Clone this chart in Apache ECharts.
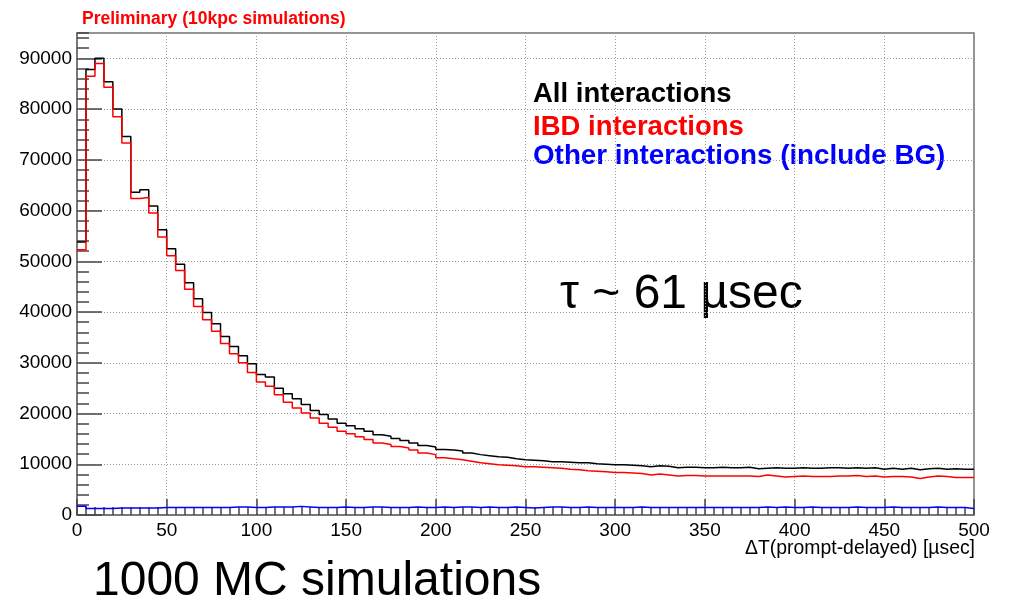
<!DOCTYPE html>
<html>
<head>
<meta charset="utf-8">
<script src="https://cdn.jsdelivr.net/npm/echarts@6/dist/echarts.min.js"></script>
<style>
  html, body { margin: 0; padding: 0; background: #fff; }
  #chart { width: 1009px; height: 603px; }
</style>
</head>
<body>
<div id="chart"></div>
<script>
// ΔT histogram, 5 µsec bins from 0 to 500 µsec
const binWidth = 5;
const xMin = 0, xMax = 500;

// All interactions
const allCounts = [
  53800, 87800, 90000, 85400, 80000, 74600, 63600, 64100, 60900, 56200,
  52500, 49400, 45800, 42600, 39900, 37700, 35200, 33200, 31400, 29800,
  27700, 27200, 25000, 23900, 22900, 21800, 20600, 19800, 18900, 18100,
  17600, 17000, 16500, 15800, 15500, 15100, 14700, 14200, 13700, 13400,
  12900, 12800, 12600, 12200, 11900, 11700, 11500, 11400, 11100, 10900,
  10800, 10700, 10500, 10500, 10400, 10300, 10300, 10100, 10000, 9900,
  9900, 9800, 9700, 9500, 9700, 9600, 9300, 9400, 9400, 9300,
  9300, 9400, 9300, 9300, 9400, 9100, 9200, 9300, 9200, 9200,
  9300, 9200, 9200, 9300, 9300, 9200, 9300, 9200, 9300, 9000,
  9200, 9000, 9200, 8900, 9100, 9200, 9000, 9100, 9000, 9000
];

// IBD interactions
const ibdCounts = [
  52300, 86500, 89000, 84300, 78500, 73300, 62400, 62600, 59500, 54800,
  51100, 48200, 44500, 41100, 38500, 36200, 33800, 31800, 30000, 28100,
  26200, 25400, 23700, 22200, 21100, 20100, 19100, 18100, 17300, 16500,
  16000, 15400, 14900, 14200, 13900, 13500, 13200, 12800, 12200, 11900,
  11300, 11100, 10900, 10600, 10300, 10100, 9900, 9800, 9700, 9500,
  9500, 9400, 9300, 9200, 9000, 8900, 8700, 8600, 8500, 8400,
  8400, 8300, 8200, 7900, 8100, 7900, 7700, 7800, 7800, 7700,
  7700, 7700, 7700, 7700, 7700, 7600, 7900, 7700, 7500, 7600,
  7700, 7600, 7600, 7600, 7700, 7700, 7800, 7600, 7700, 7500,
  7600, 7600, 7500, 7200, 7500, 7700, 7600, 7400, 7400, 7400
];

// Other interactions (including background)
const otherCounts = [
  1700, 1300, 1300, 1300, 1400, 1400, 1400, 1400, 1400, 1500,
  1500, 1500, 1500, 1500, 1500, 1500, 1500, 1600, 1600, 1500,
  1500, 1600, 1600, 1600, 1700, 1600, 1500, 1500, 1500, 1600,
  1500, 1500, 1600, 1600, 1500, 1500, 1500, 1600, 1500, 1500,
  1600, 1500, 1600, 1600, 1500, 1600, 1500, 1500, 1600, 1500,
  1400, 1500, 1600, 1600, 1500, 1500, 1600, 1500, 1500, 1500,
  1500, 1500, 1600, 1500, 1500, 1500, 1500, 1500, 1500, 1500,
  1500, 1500, 1500, 1500, 1500, 1500, 1600, 1500, 1600, 1500,
  1500, 1600, 1500, 1500, 1500, 1500, 1600, 1500, 1500, 1500,
  1600, 1500, 1500, 1500, 1500, 1600, 1500, 1500, 1500, 1300
];

const seriesNames = ['All interactions', 'IBD interactions', 'Other interactions (include BG)'];
const seriesColors = ['#000000', '#ff0000', '#0000ff'];

// Step-line points: left edge of every bin, plus the right edge of the last bin
function histPoints(counts) {
  const pts = counts.map((v, i) => [xMin + i * binWidth, v]);
  pts.push([xMin + counts.length * binWidth, counts[counts.length - 1]]);
  return pts;
}

const FONT = '"Liberation Sans", Arial, Helvetica, sans-serif';
const chart = echarts.init(document.getElementById('chart'), null, { renderer: 'canvas' });

const histSeries = [allCounts, ibdCounts, otherCounts].map((counts, k) => ({
  name: seriesNames[k],
  type: 'line',
  step: 'end',
  data: histPoints(counts),
  showSymbol: false,
  symbol: 'none',
  silent: true,
  clip: true,
  lineStyle: { color: seriesColors[k], width: 1.5 },
  z: 3 + k
}));

const plainNumber = v => String(Math.round(v));

chart.setOption({
  animation: false,
  backgroundColor: '#ffffff',
  grid: {
    left: 77, right: 35, top: 33, bottom: 88,
    show: true, borderColor: '#707070', borderWidth: 1.5, backgroundColor: 'transparent'
  },
  xAxis: {
    type: 'value', min: xMin, max: xMax, interval: 50,
    axisLine: { show: true, lineStyle: { color: '#707070', width: 1.5 } },
    axisTick: { show: true, inside: true, length: 16, lineStyle: { color: '#444', width: 1.5 } },
    minorTick: { show: true, splitNumber: 10, length: 8, lineStyle: { color: '#444', width: 1.5 } },
    axisLabel: { color: '#000', fontSize: 19, fontFamily: FONT, margin: 6, formatter: plainNumber },
    splitLine: { show: true, lineStyle: { color: '#9a9a9a', type: [1, 2], width: 1 } }
  },
  yAxis: [
    {
      type: 'value', min: 0, max: 95000, interval: 10000,
      axisLine: { show: true, lineStyle: { color: '#707070', width: 1.5 } },
      axisTick: { show: true, inside: true, length: 25, lineStyle: { color: '#444', width: 1.5 } },
      axisLabel: { color: '#000', fontSize: 19, fontFamily: FONT, margin: 5, showMaxLabel: false, formatter: plainNumber },
      splitLine: { show: true, lineStyle: { color: '#9a9a9a', type: [1, 2], width: 1 } }
    },
    {
      // minor ticks every 2000
      type: 'value', min: 0, max: 95000, interval: 2000, position: 'left', offset: 0,
      axisLine: { show: false },
      axisTick: { show: true, inside: true, length: 12, lineStyle: { color: '#444', width: 1.5 } },
      axisLabel: { show: false },
      splitLine: { show: false }
    }
  ],
  series: histSeries,
  graphic: [
    {
      type: 'text', left: 82, top: 10,
      style: { text: 'Preliminary (10kpc simulations)', fill: '#ff0000', font: 'bold 17.5px ' + FONT }
    },
    {
      type: 'text', x: 533, y: 94,
      style: { text: seriesNames[0], fill: seriesColors[0], font: 'bold 27.5px ' + FONT, verticalAlign: 'middle' }
    },
    {
      type: 'text', x: 533, y: 127,
      style: { text: seriesNames[1], fill: seriesColors[1], font: 'bold 27.5px ' + FONT, verticalAlign: 'middle' }
    },
    {
      type: 'text', x: 533, y: 156,
      style: { text: seriesNames[2], fill: seriesColors[2], font: 'bold 27.8px ' + FONT, verticalAlign: 'middle' }
    },
    {
      type: 'text', x: 560, y: 295,
      style: { text: 'τ ~ 61 µsec', fill: '#000', font: '48px ' + FONT, verticalAlign: 'middle' }
    },
    {
      type: 'text', x: 975, y: 549,
      style: { text: 'ΔT(prompt-delayed) [µsec]', fill: '#000', font: '19.4px ' + FONT, align: 'right', verticalAlign: 'middle' }
    },
    {
      type: 'text', x: 93, y: 582,
      style: { text: '1000 MC simulations', fill: '#000', font: '48px ' + FONT, verticalAlign: 'middle' }
    }
  ]
});
</script>
</body>
</html>
